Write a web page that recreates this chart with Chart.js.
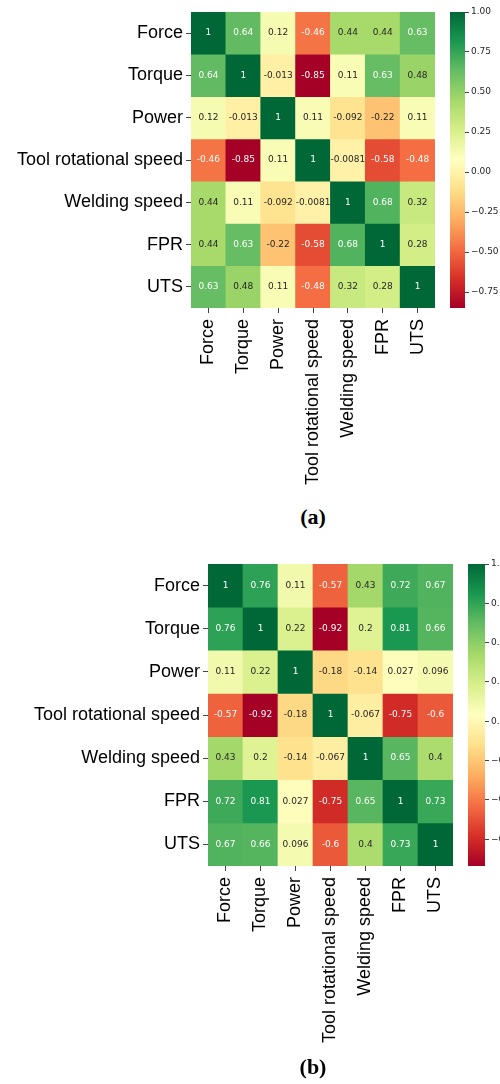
<!DOCTYPE html>
<html>
<head>
<meta charset="utf-8">
<script src="https://cdn.jsdelivr.net/npm/chart.js@4.4.0/dist/chart.umd.min.js"></script>
<style>
  body { margin: 0; background: #fff; width: 500px; height: 1084px; position: relative; overflow: hidden; }
  canvas { position: absolute; }
  .cap { position: absolute; font: bold 22px "Liberation Serif", "Times New Roman", serif; color: #000; transform: translate(-50%, -50%); }
</style>
</head>
<body>
<canvas id="heatA" width="440" height="500" style="left:0px;top:0px"></canvas>
<canvas id="barA" width="60" height="330" style="left:440px;top:0px"></canvas>
<div class="cap" style="left:313px;top:517px">(a)</div>
<canvas id="heatB" width="460" height="539" style="left:0px;top:545px"></canvas>
<canvas id="barB" width="60" height="330" style="left:440px;top:545px"></canvas>
<div class="cap" style="left:313px;top:1067px">(b)</div>
<script>
// variable names, same for rows and columns
const labels = ['Force', 'Torque', 'Power', 'Tool rotational speed', 'Welding speed', 'FPR', 'UTS'];

// correlation matrix (a)
const corrA = [
  [1, 0.64, 0.12, -0.46, 0.44, 0.44, 0.63],
  [0.64, 1, -0.013, -0.85, 0.11, 0.63, 0.48],
  [0.12, -0.013, 1, 0.11, -0.092, -0.22, 0.11],
  [-0.46, -0.85, 0.11, 1, -0.0081, -0.58, -0.48],
  [0.44, 0.11, -0.092, -0.0081, 1, 0.68, 0.32],
  [0.44, 0.63, -0.22, -0.58, 0.68, 1, 0.28],
  [0.63, 0.48, 0.11, -0.48, 0.32, 0.28, 1]
];

// correlation matrix (b)
const corrB = [
  [1, 0.76, 0.11, -0.57, 0.43, 0.72, 0.67],
  [0.76, 1, 0.22, -0.92, 0.2, 0.81, 0.66],
  [0.11, 0.22, 1, -0.18, -0.14, 0.027, 0.096],
  [-0.57, -0.92, -0.18, 1, -0.067, -0.75, -0.6],
  [0.43, 0.2, -0.14, -0.067, 1, 0.65, 0.4],
  [0.72, 0.81, 0.027, -0.75, 0.65, 1, 0.73],
  [0.67, 0.66, 0.096, -0.6, 0.4, 0.73, 1]
];

const cbarTicks = [1, 0.75, 0.5, 0.25, 0, -0.25, -0.5, -0.75];

// RdYlGn
const rdylgn = ['#a50026', '#d73027', '#f46d43', '#fdae61', '#fee08b', '#ffffbf',
  '#d9ef8b', '#a6d96a', '#66bd63', '#1a9850', '#006837'];

const hex = h => [1, 3, 5].map(i => parseInt(h.slice(i, i + 2), 16));

function cmap(t) {
  t = Math.max(0, Math.min(1, t));
  const n = rdylgn.length - 1;
  const p = t * n;
  const i = Math.min(Math.floor(p), n - 1);
  const f = p - i;
  const a = hex(rdylgn[i]), b = hex(rdylgn[i + 1]);
  return a.map((v, k) => Math.round(v + (b[k] - v) * f));
}

function lum(rgb) {
  const lin = rgb.map(v => {
    v /= 255;
    return v <= 0.03928 ? v / 12.92 : Math.pow((v + 0.055) / 1.055, 2.4);
  });
  return 0.2126 * lin[0] + 0.7152 * lin[1] + 0.0722 * lin[2];
}

const tickFont = { family: '"Liberation Sans", Arial, sans-serif', size: 18 };

const annotate = {
  id: 'annotate',
  afterDatasetsDraw(chart) {
    const ctx = chart.ctx;
    ctx.save();
    ctx.font = '9px "DejaVu Sans"';
    ctx.textAlign = 'center';
    ctx.textBaseline = 'middle';
    chart.data.datasets.forEach((ds, r) => {
      chart.getDatasetMeta(r).data.forEach((bar, c) => {
        ctx.fillStyle = ds.textColors[c];
        ctx.fillText(String(ds.values[c]), bar.x, (bar.y + bar.base) / 2);
      });
    });
    ctx.restore();
  }
};

function heatmap(id, values, area) {
  const canvas = document.getElementById(id);
  const W = canvas.width, H = canvas.height;
  const flat = values.flat();
  const vmin = Math.min(...flat), vmax = Math.max(...flat);
  const datasets = values.map((row, r) => {
    const cols = row.map(v => cmap((v - vmin) / (vmax - vmin)));
    return {
      data: row.map(() => [r, r + 1]),
      values: row,
      backgroundColor: cols.map(c => `rgb(${c[0]},${c[1]},${c[2]})`),
      textColors: cols.map(c => lum(c) > 0.408 ? '#262626' : '#ffffff'),
      borderWidth: 0,
      grouped: false,
      barPercentage: 1,
      categoryPercentage: 1
    };
  });
  new Chart(canvas, {
    type: 'bar',
    data: { labels, datasets },
    options: {
      responsive: false,
      animation: false,
      layout: { padding: { top: area.top, right: W - area.right, left: 0, bottom: 0 } },
      plugins: { legend: { display: false }, tooltip: { enabled: false } },
      scales: {
        x: {
          grid: { offset: false, drawOnChartArea: false, tickLength: 5, color: '#444' },
          border: { display: false },
          ticks: { minRotation: 90, maxRotation: 90, autoSkip: false, padding: 6, font: tickFont, color: '#000' },
          afterFit: s => { s.height = H - area.bottom; s.paddingLeft = 0; s.paddingRight = 0; }
        },
        y: {
          reverse: true,
          min: 0,
          max: labels.length,
          afterBuildTicks: s => { s.ticks = labels.map((_, i) => ({ value: i + 0.5 })); },
          grid: { drawOnChartArea: false, tickLength: 5, color: '#444' },
          border: { display: false },
          ticks: { callback: (v, i) => labels[i], autoSkip: false, padding: 3, font: tickFont, color: '#000' },
          afterFit: s => { s.width = area.left; s.paddingTop = 0; s.paddingBottom = 0; }
        }
      }
    },
    plugins: [annotate]
  });
}

function colorbar(id, values, area) {
  const canvas = document.getElementById(id);
  const W = canvas.width, H = canvas.height;
  const flat = values.flat();
  const vmin = Math.min(...flat), vmax = Math.max(...flat);
  new Chart(canvas, {
    type: 'bar',
    data: {
      labels: [''],
      datasets: [{
        data: [[vmin, vmax]],
        borderWidth: 0,
        barPercentage: 1,
        categoryPercentage: 1,
        backgroundColor: ctx => {
          const ys = ctx.chart.scales.y;
          if (!ys) return '#fff';
          const y0 = ys.getPixelForValue(vmin), y1 = ys.getPixelForValue(vmax);
          if (!Number.isFinite(y0) || !Number.isFinite(y1)) return '#fff';
          const g = ctx.chart.ctx.createLinearGradient(0, y0, 0, y1);
          rdylgn.forEach((c, i) => g.addColorStop(i / (rdylgn.length - 1), c));
          return g;
        }
      }]
    },
    options: {
      responsive: false,
      animation: false,
      layout: { padding: { left: area.left, top: area.top, bottom: H - area.bottom, right: 0 } },
      plugins: { legend: { display: false }, tooltip: { enabled: false } },
      scales: {
        x: { display: false },
        y: {
          position: 'right',
          min: vmin,
          max: vmax,
          afterBuildTicks: s => { s.ticks = cbarTicks.map(v => ({ value: v })); },
          grid: { drawOnChartArea: false, tickLength: 4, color: '#444' },
          border: { display: false },
          ticks: {
            callback: v => (v < 0 ? '\u2212' : '') + Math.abs(v).toFixed(2),
            font: { family: '"DejaVu Sans"', size: 9 },
            color: '#262626',
            padding: 2
          },
          afterFit: s => { s.width = W - area.right; s.paddingTop = 0; s.paddingBottom = 0; }
        }
      }
    }
  });
}

heatmap('heatA', corrA, { left: 191, top: 12, right: 435, bottom: 308 });
colorbar('barA', corrA, { left: 10, right: 25, top: 12, bottom: 308 });
heatmap('heatB', corrB, { left: 208, top: 19, right: 453, bottom: 321 });
colorbar('barB', corrB, { left: 28, right: 45, top: 19, bottom: 321 });
</script>
</body>
</html>
